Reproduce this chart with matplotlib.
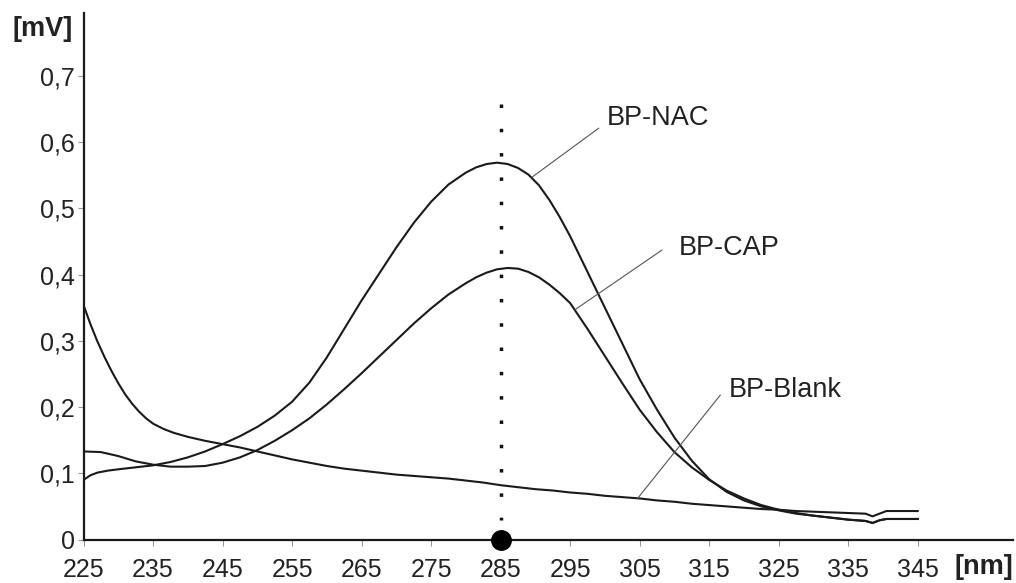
import numpy as np
import matplotlib
matplotlib.use("Agg")
import matplotlib.pyplot as plt
from matplotlib.ticker import FixedLocator, FuncFormatter

# signal [mV] against wavelength [nm]
nac_nm = [225, 226, 227, 228.5, 230, 232.5, 235, 237.5, 240, 242.5, 245, 247.5,
          250, 252.5, 255, 257.5, 260, 262.5, 265, 267.5, 270, 272.5, 275, 277.5,
          280, 281.5, 283, 284.5, 286, 287.5, 289, 290.5, 292, 293.5, 295, 297.5,
          300, 302.5, 305, 307.5, 310, 312.5, 315, 317.5, 320, 322.5, 325, 327.5,
          330, 332.5, 335, 337.5, 338.5, 339.5, 340.5, 342.5, 345]
bp_nac = [0.090, 0.097, 0.101, 0.104, 0.106, 0.109, 0.112, 0.117, 0.124, 0.133,
          0.144, 0.156, 0.170, 0.187, 0.208, 0.237, 0.275, 0.318, 0.361, 0.401,
          0.441, 0.478, 0.510, 0.536, 0.554, 0.562, 0.567, 0.569, 0.567, 0.561,
          0.551, 0.535, 0.513, 0.487, 0.458, 0.404, 0.350, 0.296, 0.242, 0.196,
          0.154, 0.119, 0.091, 0.072, 0.059, 0.050, 0.044, 0.039, 0.036, 0.033,
          0.030, 0.028, 0.025, 0.029, 0.031, 0.031, 0.031]

cap_nm = [225, 227.5, 230, 232.5, 235, 237.5, 240, 242.5, 245, 247.5, 250, 252.5,
          255, 257.5, 260, 262.5, 265, 267.5, 270, 272.5, 275, 277.5, 280, 281.5,
          283, 284.5, 286, 287.5, 289, 290.5, 292, 293.5, 295, 297.5, 300, 302.5,
          305, 307.5, 310, 312.5, 315, 317.5, 320, 322.5, 325, 327.5, 330, 332.5,
          335, 337.5, 338.5, 339.5, 340.5, 342.5, 345]
bp_cap = [0.133, 0.132, 0.126, 0.118, 0.113, 0.110, 0.110, 0.111, 0.116, 0.124,
          0.135, 0.149, 0.165, 0.183, 0.204, 0.227, 0.251, 0.276, 0.301, 0.326,
          0.349, 0.370, 0.387, 0.396, 0.403, 0.408, 0.410, 0.409, 0.404, 0.396,
          0.385, 0.372, 0.357, 0.318, 0.277, 0.236, 0.196, 0.162, 0.132, 0.109,
          0.090, 0.074, 0.062, 0.052, 0.045, 0.040, 0.036, 0.033, 0.030, 0.028,
          0.025, 0.029, 0.031, 0.031, 0.031]

blank_nm = [225, 226, 227, 228, 229, 230, 231, 232, 233, 234, 235, 236.5, 238,
            240, 242.5, 245, 247.5, 250, 252.5, 255, 257.5, 260, 262.5, 265,
            267.5, 270, 272.5, 275, 277.5, 280, 282.5, 285, 287.5, 290, 292.5,
            295, 297.5, 300, 302.5, 305, 307.5, 310, 312.5, 315, 317.5, 320,
            322.5, 325, 327.5, 330, 332.5, 335, 337.5, 338.5, 339.5, 340.5,
            342.5, 345]
bp_blank = [0.354, 0.325, 0.299, 0.276, 0.255, 0.236, 0.219, 0.205, 0.193, 0.183,
            0.175, 0.167, 0.161, 0.155, 0.149, 0.144, 0.139, 0.133, 0.127, 0.121,
            0.116, 0.111, 0.107, 0.104, 0.101, 0.098, 0.096, 0.094, 0.092, 0.089,
            0.086, 0.082, 0.079, 0.076, 0.074, 0.071, 0.069, 0.066, 0.064, 0.062,
            0.059, 0.057, 0.054, 0.052, 0.050, 0.048, 0.046, 0.045, 0.043, 0.042,
            0.041, 0.040, 0.039, 0.035, 0.039, 0.043, 0.043, 0.043]

peak_nm = 285
x_ticks = list(range(225, 346, 10))
y_ticks = [0, 0.1, 0.2, 0.3, 0.4, 0.5, 0.6, 0.7]

# label text, label anchor (x, y), leader line from label to curve
labels = ["BP-NAC", "BP-CAP", "BP-Blank"]
label_pos = [(300.3, 0.636), (310.6, 0.440), (317.8, 0.226)]
leader_start = [(299.1, 0.621), (308.2, 0.437), (316.6, 0.218)]
leader_end = [(289.5, 0.547), (295.7, 0.347), (304.7, 0.062)]

regular = ["Liberation Sans", "DejaVu Sans"]

fig = plt.figure(figsize=(10.16, 5.83), dpi=100)
ax = fig.add_axes([0.0822, 0.0746, 0.9148, 0.9031])

for xs, ys in ((nac_nm, bp_nac), (cap_nm, bp_cap), (blank_nm, bp_blank)):
    ax.plot(xs, ys, color="#1a1a1a", lw=1.5, solid_joinstyle="round")

# dotted marker line at the peak wavelength, drawn top-down
ax.plot([peak_nm, peak_nm], [0.658, 0.03], color="#111111", lw=2.5,
        linestyle=(0, (1, 6)), dash_capstyle="butt")
ax.plot([peak_nm], [0], marker="o", markersize=14, color="black",
        clip_on=False, zorder=5)

for text, pos, p0, p1 in zip(labels, label_pos, leader_start, leader_end):
    ax.plot([p0[0], p1[0]], [p0[1], p1[1]], color="#555555", lw=0.8)
    ax.text(pos[0], pos[1], text, fontsize=19.5, family=regular,
            color="#222222", ha="left", va="center")

ax.set_xlim(225, 358.7)
ax.set_ylim(0, 0.795)
ax.xaxis.set_major_locator(FixedLocator(x_ticks))
ax.yaxis.set_major_locator(FixedLocator(y_ticks))
ax.yaxis.set_major_formatter(FuncFormatter(
    lambda v, p: "0" if v == 0 else f"{v:.1f}".replace(".", ",")))

for side in ("top", "right"):
    ax.spines[side].set_visible(False)
for side in ("left", "bottom"):
    ax.spines[side].set_linewidth(1.6)
    ax.spines[side].set_color("#1a1a1a")

ax.tick_params(axis="both", direction="out", length=4, width=0.8,
               color="#999999", labelcolor="#222222", labelsize=18)
ax.tick_params(axis="x", pad=9)
ax.tick_params(axis="y", pad=2)
for lab in ax.get_xticklabels() + ax.get_yticklabels():
    lab.set_family(regular)

fig.text(73 / 1016, 1 - 29 / 583, "[mV]", fontsize=19.5, weight="bold",
         family=regular, color="#222222", ha="right", va="center")
fig.text(1013 / 1016, 1 - 567 / 583, "[nm]", fontsize=19.5, weight="bold",
         family=regular, color="#222222", ha="right", va="center")

fig.savefig("out.png", dpi=100)
